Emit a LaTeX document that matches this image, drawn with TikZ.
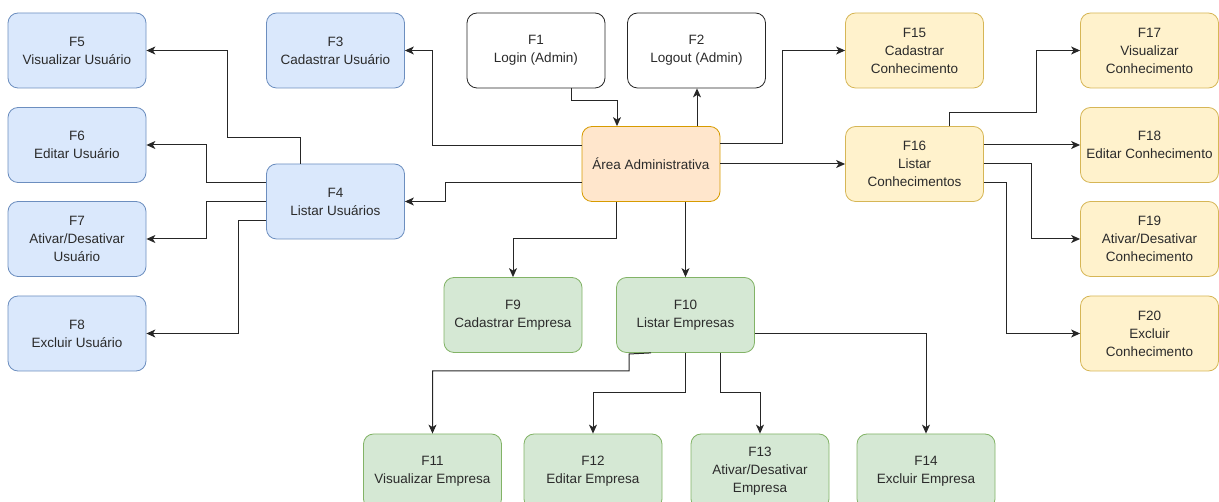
\documentclass[tikz,border=0pt]{standalone}
\usepackage{fontspec}
\setmainfont{Liberation Sans}
\usetikzlibrary{arrows.meta}

\definecolor{bluefill}{HTML}{DAE8FC}
\definecolor{bluedraw}{HTML}{6C8EBF}
\definecolor{orangefill}{HTML}{FFE6CC}
\definecolor{orangedraw}{HTML}{D79B00}
\definecolor{yellowfill}{HTML}{FFF2CC}
\definecolor{yellowdraw}{HTML}{D6B656}
\definecolor{greenfill}{HTML}{D5E8D4}
\definecolor{greendraw}{HTML}{82B366}
\definecolor{txt}{HTML}{2B2B2B}
\definecolor{edge}{HTML}{262626}

\begin{document}
\begin{tikzpicture}[x=1pt,y=-1pt,
  box/.style={draw, rounded corners=10pt, minimum width=138pt, minimum height=75pt,
    inner sep=2pt, align=center, text=txt, line width=0.8pt,
    font=\fontsize{13.5}{18}\selectfont},
  userbox/.style={box, fill=bluefill, draw=bluedraw},
  adminbox/.style={box, fill=orangefill, draw=orangedraw},
  knowbox/.style={box, fill=yellowfill, draw=yellowdraw},
  compbox/.style={box, fill=greenfill, draw=greendraw},
  plainbox/.style={box, fill=white, draw=black!85},
  arr/.style={draw=edge, line width=1pt,
    -{Stealth[length=9pt,width=8pt,inset=2.5pt]}},
  seg/.style={draw=edge, line width=1pt}
]
\useasboundingbox (0,0) rectangle (1219,502);
\clip (0,0) rectangle (1219,502);

% central node and session functions
\node[adminbox] (area) at (651,164) {Área Administrativa};
\node[plainbox] (f1) at (536,50.5) {F1\\Login (Admin)};
\node[plainbox] (f2) at (696.5,50.5) {F2\\Logout (Admin)};

% users
\node[userbox] (f3) at (335.5,50.5) {F3\\Cadastrar Usuário};
\node[userbox] (f4) at (335.5,201.5) {F4\\Listar Usuários};
\node[userbox] (f5) at (77,50.5) {F5\\Visualizar Usuário};
\node[userbox] (f6) at (77,145) {F6\\Editar Usuário};
\node[userbox] (f7) at (77,239) {F7\\Ativar/Desativar\\Usuário};
\node[userbox] (f8) at (77,333.5) {F8\\Excluir Usuário};

% companies
\node[compbox] (f9) at (513,315) {F9\\Cadastrar Empresa};
\node[compbox] (f10) at (685.5,315) {F10\\Listar Empresas};
\node[compbox] (f11) at (432.5,471.5) {F11\\Visualizar Empresa};
\node[compbox] (f12) at (593,471.5) {F12\\Editar Empresa};
\node[compbox] (f13) at (760,471.5) {F13\\Ativar/Desativar\\Empresa};
\node[compbox] (f14) at (926,471.5) {F14\\Excluir Empresa};

% knowledge
\node[knowbox] (f15) at (914.5,50.5) {F15\\Cadastrar\\Conhecimento};
\node[knowbox] (f16) at (914.5,164) {F16\\Listar\\Conhecimentos};
\node[knowbox] (f17) at (1149.5,50.5) {F17\\Visualizar\\Conhecimento};
\node[knowbox] (f18) at (1149.5,145) {F18\\Editar Conhecimento};
\node[knowbox] (f19) at (1149.5,239) {F19\\Ativar/Desativar\\Conhecimento};
\node[knowbox] (f20) at (1149.5,333.5) {F20\\Excluir\\Conhecimento};

% links of the administrative area
\draw[arr] (f1.south -| 571,0) |- (617,101) -- (area.north -| 617,0);
\draw[arr] (area.north -| 697,0) -- (f2.south -| 697,0);
\draw[arr] (area.west |- 0,146) -- (432,146) |- (f3);
\draw[arr] (area.west |- 0,183) -- (445,183) |- (f4);
\draw[arr] (area.east |- 0,144) -- (782,144) |- (f15);
\draw[arr] (area.east) -- (f16.west);
\draw[arr] (area.south -| 616,0) -- (616,239) -| (f9);
\draw[arr] (area.south -| f10.north) -- (f10.north);

% user list actions
\draw[arr] (f4.north -| 300,0) -- (300,138) -- (227,138) |- (f5);
\draw[arr] (f4.west |- 0,183) -- (206,183) |- (f6);
\draw[arr] (f4.west) -- (f4.west -| 206,0) |- (f7);
\draw[arr] (f4.west |- 0,221) -- (238,221) |- (f8);

% knowledge list actions
\draw[arr] (f16.north -| 949,0) -- (949,113) -- (1036,113) |- (f17);
\draw[arr] (f16.east |- f18) -- (f18.west);
\draw[arr] (f16.east) -- (f16.east -| 1031,0) |- (f19);
\draw[arr] (f16.east |- 0,183) -- (1006,183) |- (f20);

% company list actions
\draw[arr] (f10.south -| 651,0) -- (629,354) -- (629,371) -| (f11);
\draw[arr] (f10.south) -- (f10.south |- 0,393) -| (f12);
\draw[arr] (f10.south -| 720,0) -- (720,393) -| (f13);
\draw[arr] (f10.east |- 0,334) -| (f14);
\end{tikzpicture}
\end{document}
